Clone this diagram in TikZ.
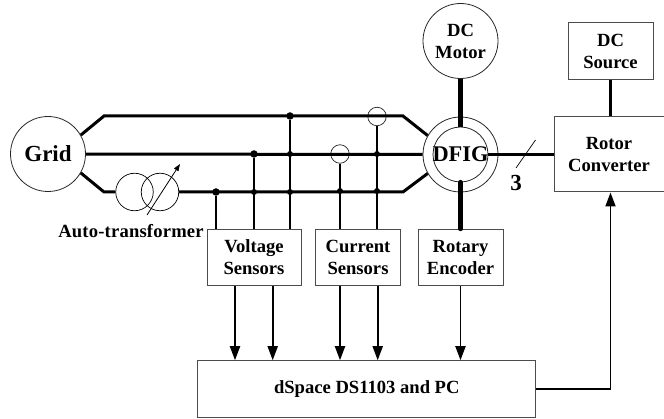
\documentclass[tikz,border=0pt]{standalone}
\usepackage{fontspec}
\setmainfont{Liberation Serif}
\usetikzlibrary{arrows.meta}

\begin{document}
\begin{tikzpicture}[x=1pt,y=-1pt,>={Triangle[length=14pt,width=10pt]},
    every node/.style={font=\fontsize{18.6}{22}\selectfont\bfseries,align=center,inner sep=0pt},
    machine/.style={circle,draw=black!85,line width=0.8pt,minimum size=75pt},
    blockbox/.style={rectangle,draw=black!70,line width=1pt,minimum height=56.5pt},
    sensorloop/.style={circle,draw=black!85,line width=0.7pt,minimum size=18.5pt},
    winding/.style={circle,draw=black,line width=0.7pt,minimum size=37.5pt},
    bigdot/.style={circle,fill=black,minimum size=7.5pt},
    smalldot/.style={circle,fill=black,minimum size=6pt},
    bus/.style={line width=3pt},
    shaft/.style={line width=5pt},
    tap/.style={line width=1.8pt},
    signal/.style={->,line width=1.8pt}]
  \useasboundingbox (0,0) rectangle (664,419);

  \node[machine,font=\fontsize{23}{26}\selectfont\bfseries] (Grid)  at (48,154)   {Grid};
  \node[machine]                                            (Motor) at (460.5,41) {DC\\Motor};
  \node[machine,font=\fontsize{22.4}{26}\selectfont\bfseries] (DFIG) at (460.5,154.5) {DFIG};
  \node[machine,minimum size=55pt]                          (Stator) at (460.5,154.5) {};

  \node[blockbox,minimum width=85pt]  (Source)  at (610.5,51)   {DC\\Source};
  \node[blockbox,minimum width=110pt,minimum height=75pt] (Rotor) at (609,154.5) {Rotor\\Converter};
  \node[blockbox,minimum width=94pt]  (Voltage) at (254,257.5)  {Voltage\\Sensors};
  \node[blockbox,minimum width=85pt]  (Current) at (358,257.5)  {Current\\Sensors};
  \node[blockbox,minimum width=85pt]  (Encoder) at (460.5,257.5) {Rotary\\Encoder};
  \node[blockbox,minimum width=338pt] (PC)      at (366.8,389)  {dSpace DS1103 and PC};

  \node[winding]   (TA)  at (134.5,192) {};
  \node[winding]   (TB)  at (160,192)   {};
  \node[sensorloop] (CTa) at (340,154)  {};
  \node[sensorloop] (CTb) at (377,116.5) {};

  \node (Auto)  at (131,231) {\addfontfeature{LetterSpace=1}Auto-transformer};
  \node[font=\fontsize{23}{26}\selectfont\bfseries] (Three) at (516,183) {3};

  \node[bigdot]   (VA) at (290,116) {};
  \node[bigdot]   (VB) at (254,154) {};
  \node[bigdot]   (VC) at (216,192) {};
  \node[smalldot] (VD) at (290,154) {};
  \node[smalldot] (VE) at (254,192) {};
  \node[smalldot] (VF) at (290,192) {};
  \node[smalldot] (CA) at (340,191) {};
  \node[smalldot] (CB) at (377,154) {};
  \node[smalldot] (CC) at (377,191) {};

  \coordinate (GT) at (104,116);
  \coordinate (GB) at (104,192);
  \coordinate (DT) at (403,116);
  \coordinate (DB) at (403,192);
  \coordinate (SA) at (516,168);
  \coordinate (SB) at (535.5,140);
  \coordinate (TS) at (147,215);
  \coordinate (TE) at (180,164);
  \coordinate (RC) at (610.5,389);
  \coordinate (SVa) at (235,286);
  \coordinate (SVb) at (272.7,286);
  \coordinate (SCa) at (340,286);
  \coordinate (SCb) at (377.7,286);

  % power lines
  \draw[bus] (Grid.30)  -- (GT) -- (DT) -- (DFIG.150);
  \draw[bus] (Grid.-30) -- (GB) -- (TA.west);
  \draw[bus] (TB.east)  -- (DB) -- (DFIG.210);
  \path[bus] (Grid) edge (DFIG)
             (Stator.east) edge (Rotor.west)
             (Source) edge (Source |- Rotor.north);

  % shafts
  \path[shaft] (Motor) edge (Stator);
  \draw[shaft,line cap=round] (Stator.south) -- (Encoder.north);

  \draw[line width=0.7pt] (SA) -- (SB);
  \draw[line width=0.8pt,-{Triangle[length=7pt,width=5pt]}] (TS) -- (TE);

  % sensor taps
  \path[tap] (VC) edge (VC |- Voltage.north)
             (VB) edge (VB |- Voltage.north)
             (VA) edge (VA |- Voltage.north)
             (CTa) edge (CTa |- Current.north)
             (CTb) edge (CTb |- Current.north);

  % signals
  \draw[signal] (SVa) -- (SVa |- PC.north);
  \draw[signal] (SVb) -- (SVb |- PC.north);
  \draw[signal] (SCa) -- (SCa |- PC.north);
  \draw[signal] (SCb) -- (SCb |- PC.north);
  \draw[signal] (Encoder) -- (Encoder |- PC.north);
  \draw[signal] (PC.east) -- (RC) -- (RC |- Rotor.south);
\end{tikzpicture}
\end{document}
